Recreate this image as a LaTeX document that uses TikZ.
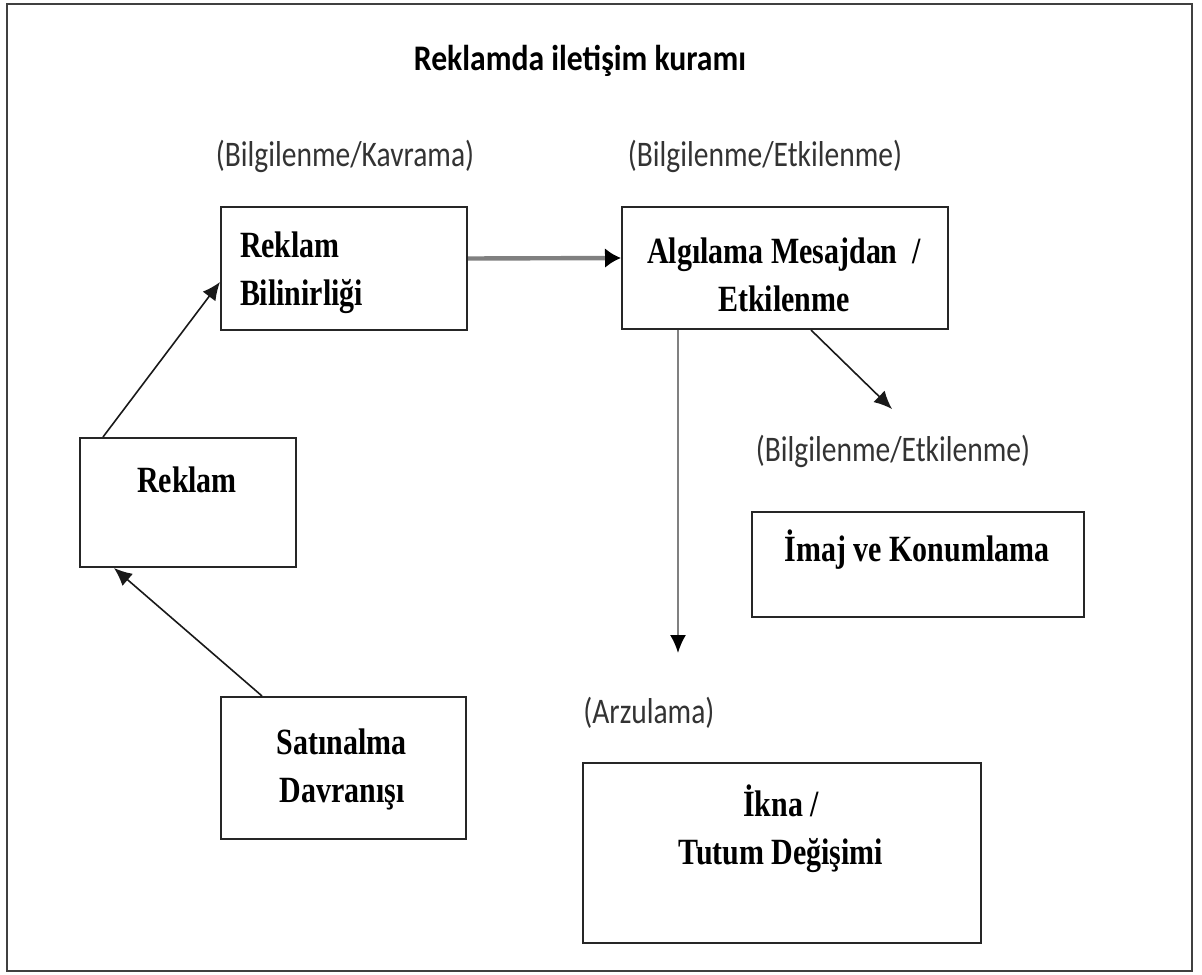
\documentclass[tikz,border=0pt]{standalone}
\usepackage{fontspec}
\setmainfont{Liberation Serif}
\newfontfamily\boxfont[FakeStretch=0.81]{Liberation Serif}
\newfontfamily\lblfont[FakeStretch=0.82]{Carlito}
\newfontfamily\ttlfont[FakeStretch=0.88]{Carlito}
\usetikzlibrary{positioning,arrows.meta}

\begin{document}
\begin{tikzpicture}[x=0.5pt,y=-0.5pt,
  >={Latex[length=9pt,width=8pt]},
  box/.style={draw=black!85,line width=1pt,inner sep=0pt},
  btxt/.style={inner sep=0pt,anchor=base,align=center,
    font=\boxfont\bfseries\fontsize{18.5}{24}\selectfont},
  lbl/.style={inner sep=0pt,anchor=base,text=black!80,
    font=\lblfont\fontsize{18}{22}\selectfont},
  ttl/.style={inner sep=0pt,anchor=base,
    font=\ttlfont\bfseries\fontsize{18}{22}\selectfont},
  thinarr/.style={->,line width=0.8pt,draw=black!90},
  grayarr/.style={-{Latex[length=9pt,width=8pt,color=black]},line width=1pt,draw=black!50},
  thickarr/.style={-{Latex[length=8pt,width=10pt,color=black]},line width=2.2pt,draw=black!50}]
\useasboundingbox (0,0) rectangle (1202,974);
\draw[line width=1.2pt,draw=black!75] (7,4) rectangle (1192,971);
% title
\node[ttl] (title) at (580,70) {Reklamda iletişim kuramı};
% boxes
\node[box,minimum width=123pt,minimum height=61.5pt] (bil) at (344,268.5) {};
\node[box,minimum width=163pt,minimum height=61pt] (alg) at (785,268) {};
\node[box,minimum width=108pt,minimum height=64.5pt] (rek) at (188,502.5) {};
\node[box,minimum width=122.5pt,minimum height=71pt] (sat) at (343.5,768) {};
\node[box,minimum width=166pt,minimum height=52.5pt] (ima) at (918,564.5) {};
\node[box,minimum width=199pt,minimum height=90pt] (ikn) at (782,853) {};
% box texts (two-line texts sit on their last baseline)
\node[btxt,anchor=base west,align=left] (bilT) at ([xshift=9.8pt,yshift=-49.5pt]bil.north west) {Reklam\\Bilinirliği};
\node[btxt] (algT) at ([xshift=-0.5pt,yshift=-52.5pt]alg.north) {Algılama Mesajdan~~/\\Etkilenme};
\node[btxt] (rekT) at ([xshift=-0.5pt,yshift=-27.5pt]rek.north) {Reklam};
\node[btxt] (satT) at ([xshift=-0.8pt,yshift=-53pt]sat.north) {Satınalma\\Davranışı};
\node[btxt] (imaT) at ([xshift=-0.5pt,yshift=-25pt]ima.north) {İmaj ve Konumlama};
\node[btxt] (iknT) at ([xshift=-0.5pt,yshift=-51pt]ikn.north) {İkna /\\Tutum Değişimi};
% labels
\node[lbl] (lb1) at ([xshift=0.5pt,yshift=20pt]bil.north) {(Bilgilenme/Kavrama)};
\node[lbl] (lb2) at ([xshift=-10pt,yshift=20pt]alg.north) {(Bilgilenme/Etkilenme)};
\node[lbl] (lb3) at ([xshift=-12.5pt,yshift=25pt]ima.north) {(Bilgilenme/Etkilenme)};
\node[lbl,anchor=base west] (lb4) at ([xshift=0.5pt,yshift=19.5pt]ikn.north west) {(Arzulama)};
% free ends
\coordinate (c1) at ([xshift=-0.5pt,yshift=26pt]lb3.base);
\coordinate (c2) at ([xshift=28.5pt,yshift=-161.5pt]alg.south west);
% connectors
\draw[thickarr] ([yshift=5pt]bil.east) -- ([yshift=5pt]alg.west);
\draw[thinarr] ([xshift=12pt]rek.north west) -- ([yshift=-6.75pt]bil.west);
\draw[thinarr] ([xshift=21pt]sat.north west) -- ([xshift=17.5pt]rek.south west);
\draw[thinarr] ([xshift=13pt]alg.south) -- (c1);
\draw[grayarr] ([xshift=28.5pt]alg.south west) -- (c2);
\end{tikzpicture}
\end{document}
